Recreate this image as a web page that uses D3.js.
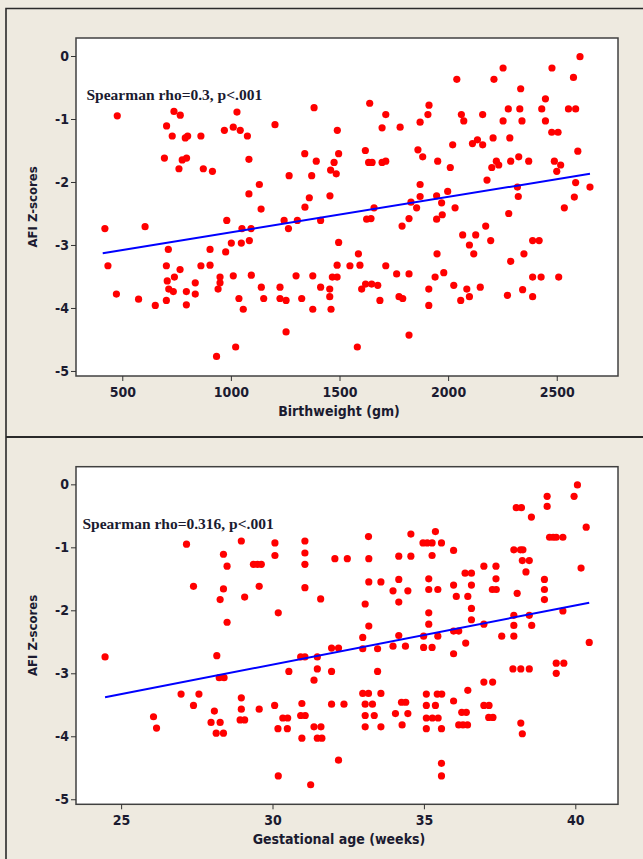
<!DOCTYPE html>
<html>
<head>
<meta charset="utf-8">
<script src="https://cdn.jsdelivr.net/npm/d3@7"></script>
<style>
  html, body { margin: 0; padding: 0; background: #eeeae0; }
  svg { display: block; }
</style>
</head>
<body>
<svg id="chart"></svg>
<script>
const svg = d3.select("#chart");
const W = 643, H = 859;
svg.attr("width", W).attr("height", H);

const yTicks = [0, -1, -2, -3, -4, -5];
const bwTicks = [500, 1000, 1500, 2000, 2500];
const gaTicks = [25, 30, 35, 40];

// birthweight (gm), AFI z-score
const bwPoints = [
  [477,-0.95],[694,-1.62],[704,-1.11],[730,-1.27],[738,-0.88],[767,-0.94],[761,-1.79],[776,-1.65],
  [790,-1.30],[801,-1.27],[796,-1.62],[862,-1.27],[873,-1.79],[915,-1.83],[970,-1.18],[1011,-1.13],
  [1028,-0.89],[1043,-1.18],[1076,-1.27],[1083,-1.64],[1083,-2.19],[1131,-2.04],[1203,-1.09],[1268,-1.90],
  [1340,-1.55],[1361,-2.25],[1372,-1.90],[1383,-0.82],[1393,-1.67],[1456,-2.22],[1459,-1.81],[1475,-1.69],
  [1485,-1.87],[1490,-1.18],[1496,-1.55],
  [1639,-0.75],[1713,-0.93],[1696,-1.14],[1779,-1.13],[1619,-1.50],[1634,-1.69],[1650,-1.69],[1696,-1.69],
  [1713,-1.67],[1871,-1.05],[1907,-0.93],[1912,-0.78],[1861,-1.49],[1883,-1.60],[1952,-1.67],[2010,-1.77],
  [2021,-1.41],[2040,-0.37],[2061,-0.93],[2072,-1.03],[2159,-0.93],[2112,-1.39],[2135,-1.33],[2159,-1.41],
  [2207,-1.30],[2179,-1.97],[2201,-1.77],[2222,-1.67],[2233,-1.73],[2211,-0.37],[2253,-0.19],[2253,-1.03],
  [2277,-0.84],[2284,-1.30],[2288,-1.67],[2330,-0.84],[2334,-0.52],[2340,-1.03],[2325,-1.60],[2371,-1.67],
  [2319,-2.08],[2323,-2.23],[2431,-0.84],[2448,-0.68],[2448,-1.03],[2478,-0.19],[2477,-1.21],[2506,-1.21],
  [2489,-1.67],[2518,-1.73],[2500,-1.83],[2554,-0.84],[2587,-0.84],[2577,-0.34],[2607,-0.01],[2597,-1.51],
  [2587,-2.01],[2581,-2.24],[2653,-2.08],[1871,-2.04],[1871,-2.23],[1947,-2.22],[1998,-2.15],
  [420,-2.74],[605,-2.71],[981,-2.61],[1139,-2.43],[1341,-2.40],[1245,-2.61],[1265,-2.74],[1306,-2.61],
  [1413,-2.61],[1051,-2.74],[1093,-2.74],[434,-3.33],[473,-3.78],[575,-3.86],[652,-3.96],[703,-3.88],
  [703,-3.33],[712,-3.07],[707,-3.57],[714,-3.70],[740,-3.51],[735,-3.74],[766,-3.39],[795,-3.74],
  [795,-3.95],[836,-3.60],[836,-3.78],[862,-3.33],[904,-3.07],[904,-3.32],[941,-3.70],[950,-3.51],
  [950,-3.60],[934,-4.77],[976,-3.11],[1002,-2.97],[1011,-3.49],[1022,-4.62],[1037,-3.85],[1057,-4.02],
  [1048,-2.97],[1085,-2.93],[1094,-3.48],[1140,-3.67],[1151,-3.85],[1226,-3.67],[1226,-3.85],[1254,-3.88],
  [1254,-4.38],[1300,-3.49],[1326,-3.85],[1377,-3.49],[1377,-4.02],[1413,-3.67],[1455,-3.70],[1455,-3.82],
  [1461,-4.02],[1467,-3.51],[1489,-3.32],[1489,-3.51],[1496,-2.96],
  [1659,-2.41],[1625,-2.59],[1645,-2.58],[1829,-2.32],[1855,-2.41],[1820,-2.58],[1788,-2.70],[1947,-2.59],
  [1973,-2.52],[1970,-2.33],[2032,-2.41],[2279,-2.50],[2535,-2.41],[1548,-3.33],[1594,-3.32],[1587,-3.14],
  [1582,-4.62],[1602,-3.70],[1620,-3.62],[1648,-3.62],[1676,-3.64],[1686,-3.88],[1713,-3.33],[1763,-3.46],
  [1820,-3.46],[1774,-3.82],[1791,-3.85],[1820,-4.43],[1949,-3.14],[1940,-3.51],[1980,-3.44],[1911,-3.70],
  [1911,-3.96],[2026,-3.64],[2067,-2.84],[2098,-3.00],[2127,-2.84],[2118,-3.14],[2173,-2.70],[2196,-2.93],
  [2086,-3.70],[2098,-3.82],[2058,-3.88],[2148,-3.67],[2273,-3.80],[2288,-3.26],[2343,-3.71],[2349,-3.14],
  [2389,-2.93],[2419,-2.93],[2389,-3.51],[2428,-3.51],[2389,-3.82],[2509,-3.51]
];

// gestational age (weeks), AFI z-score
const gaPoints = [
  [27.16,-0.95],[27.39,-1.62],[28.38,-1.11],[28.50,-1.30],[28.38,-1.66],[28.27,-1.83],[28.50,-2.19],[28.97,-0.90],
  [29.08,-1.79],[29.37,-1.27],[29.50,-1.27],[29.63,-1.27],[29.56,-1.62],[30.08,-0.93],[30.08,-1.13],[30.19,-2.04],
  [31.07,-0.90],[31.07,-1.09],[31.07,-1.27],[31.07,-1.64],[31.59,-1.82],[32.06,-1.18],
  [32.47,-1.18],[33.17,-0.83],[33.18,-1.18],[33.18,-1.55],[33.58,-1.55],[33.06,-1.90],[33.18,-2.25],[32.98,-2.43],
  [34.17,-1.14],[34.57,-0.79],[34.57,-1.14],[34.17,-1.51],[33.98,-1.69],[34.47,-1.69],[34.17,-1.87],[34.17,-2.40],
  [34.97,-0.93],[35.11,-0.93],[35.27,-0.93],[35.58,-0.93],[35.38,-0.75],[35.27,-1.13],[35.98,-1.05],[35.16,-1.50],
  [35.16,-1.67],[35.46,-1.67],[35.16,-2.04],[35.16,-2.22],[34.99,-2.41],[35.46,-2.41],[35.98,-1.60],[36.07,-1.78],
  [35.98,-2.33],[36.15,-2.33],[36.36,-1.41],[36.57,-1.41],[36.57,-1.60],[36.45,-1.78],[36.57,-1.97],[36.57,-2.15],
  [36.98,-1.30],[37.38,-1.30],[37.38,-1.50],[37.26,-1.67],[37.39,-1.67],[36.98,-2.22],[37.57,-2.41],[37.97,-1.04],
  [38.19,-1.04],[38.27,-1.04],[38.25,-1.21],[38.48,-1.21],[38.37,-1.39],[38.08,-1.73],[37.97,-2.08],[37.97,-2.24],
  [37.97,-2.41],[38.48,-2.08],[38.56,-2.24],[38.05,-0.37],[38.22,-0.37],[38.55,-0.52],[39.07,-0.19],[39.07,-0.35],
  [39.15,-0.84],[39.27,-0.84],[39.37,-0.84],[39.59,-0.84],[39.96,-0.19],[40.07,-0.01],[40.36,-0.68],[40.19,-1.33],
  [38.98,-1.51],[38.98,-1.67],[38.98,-1.83],[39.59,-2.01],
  [24.47,-2.74],[28.16,-2.72],[30.93,-2.74],[31.07,-2.74],[31.48,-2.74],[31.95,-2.60],[32.18,-2.60],[28.24,-3.07],
  [28.40,-3.07],[26.98,-3.33],[27.57,-3.33],[27.39,-3.51],[28.08,-3.60],[28.97,-3.39],[28.97,-3.57],[28.93,-3.74],
  [29.08,-3.74],[29.56,-3.57],[30.07,-3.51],[26.07,-3.69],[26.17,-3.87],[27.97,-3.78],[28.27,-3.78],[28.14,-3.95],
  [28.38,-3.95],[30.34,-3.71],[30.50,-3.71],[30.18,-3.88],[30.49,-3.88],[30.54,-2.97],[30.97,-3.48],[30.93,-3.67],
  [31.08,-3.67],[30.97,-4.03],[31.37,-3.11],[31.48,-2.93],[31.95,-2.97],[31.95,-3.49],[31.37,-3.85],[31.60,-3.85],
  [31.48,-4.03],[31.63,-4.03],[32.18,-4.38],[30.19,-4.63],[31.26,-4.77],
  [32.98,-2.61],[33.47,-2.61],[33.98,-2.57],[34.39,-2.57],[34.99,-2.59],[35.27,-2.59],[35.98,-2.69],[36.38,-2.52],
  [40.46,-2.51],[32.36,-3.49],[33.47,-2.97],[32.98,-3.32],[33.17,-3.32],[33.58,-3.32],[33.06,-3.49],[33.30,-3.49],
  [33.06,-3.67],[33.36,-3.67],[33.06,-3.85],[33.58,-3.85],[34.06,-3.64],[34.28,-3.82],[34.47,-3.64],[34.26,-3.46],
  [34.40,-3.46],[35.08,-3.33],[35.44,-3.33],[35.59,-3.33],[35.08,-3.51],[35.38,-3.51],[35.08,-3.71],[35.28,-3.71],
  [35.47,-3.71],[35.08,-3.88],[35.58,-3.88],[35.98,-3.44],[36.45,-3.27],[36.25,-3.62],[36.40,-3.62],[36.15,-3.82],
  [36.29,-3.82],[36.44,-3.82],[36.98,-3.14],[37.27,-3.14],[36.98,-3.51],[37.15,-3.51],[37.14,-3.70],[37.28,-3.70],
  [37.94,-2.93],[38.20,-2.93],[38.48,-2.93],[39.37,-2.84],[39.62,-2.84],[39.37,-3.00],[38.20,-3.79],[38.25,-3.96],
  [35.58,-4.43],[35.58,-4.63]
];

// fitted lines, read as end points
const bwFit = [[410, -3.13], [2653, -1.87]];
const gaFit = [[24.47, -3.38], [40.46, -1.88]];

const panels = [
  {
    points: bwPoints, fit: bwFit, xTicks: bwTicks,
    xDomain: [287, 2782], yDomain: [-5.08, 0.286],
    box: {left: 76, right: 618, top: 38, bottom: 376},
    xTitle: "Birthweight (gm)",
    note: "Spearman rho=0.3, p<.001", noteX: 86.5, noteY: 99.5
  },
  {
    points: gaPoints, fit: gaFit, xTicks: gaTicks,
    xDomain: [23.51, 41.41], yDomain: [-5.08, 0.28],
    box: {left: 76, right: 618, top: 466.7, bottom: 804.3},
    xTitle: "Gestational age (weeks)",
    note: "Spearman rho=0.316, p<.001", noteX: 82.5, noteY: 528.5
  }
];

const TXT = "#1b1b30";
const SANS = "'DejaVu Sans Condensed', 'DejaVu Sans', sans-serif";

// outer frame
svg.append("rect").attr("width", W).attr("height", H).attr("fill", "#eeeae0");
svg.append("path")
  .attr("d", `M6,${H} V8.5 H${W}`)
  .attr("fill", "none").attr("stroke", "#2a2a2a").attr("stroke-width", 1.6);
svg.append("line")
  .attr("x1", 6).attr("x2", W).attr("y1", 437).attr("y2", 437)
  .attr("stroke", "#2a2a2a").attr("stroke-width", 2.2);

panels.forEach(drawPanel);

function drawPanel(p) {
  const b = p.box;
  const x = d3.scaleLinear().domain(p.xDomain).range([b.left, b.right]);
  const y = d3.scaleLinear().domain(p.yDomain).range([b.bottom, b.top]);
  const g = svg.append("g");

  g.append("rect")
    .attr("x", b.left).attr("y", b.top)
    .attr("width", b.right - b.left).attr("height", b.bottom - b.top)
    .attr("fill", "#ffffff").attr("stroke", "#404040").attr("stroke-width", 1.5);

  const yAxis = g.append("g")
    .attr("transform", `translate(${b.left},0)`)
    .call(d3.axisLeft(y).tickValues(yTicks).tickSize(5).tickSizeOuter(0)
      .tickPadding(2).tickFormat(d => String(d)));
  const xAxis = g.append("g")
    .attr("transform", `translate(0,${b.bottom})`)
    .call(d3.axisBottom(x).tickValues(p.xTicks).tickSize(5).tickSizeOuter(0)
      .tickPadding(6).tickFormat(d => String(d)));

  [yAxis, xAxis].forEach(a => {
    a.select(".domain").remove();
    a.selectAll(".tick line").attr("stroke", "#333");
    a.selectAll(".tick text")
      .attr("fill", TXT)
      .attr("font-family", SANS)
      .attr("font-stretch", "condensed")
      .attr("font-weight", "bold")
      .attr("font-size", 14);
  });

  g.append("text")
    .attr("x", (b.left + b.right) / 2 - 8)
    .attr("y", b.bottom + 40)
    .attr("text-anchor", "middle")
    .attr("fill", TXT)
    .attr("font-family", SANS).attr("font-stretch", "condensed")
    .attr("font-weight", "bold").attr("font-size", 14)
    .text(p.xTitle);

  g.append("text")
    .attr("transform", `translate(37,${(b.top + b.bottom) / 2}) rotate(-90)`)
    .attr("text-anchor", "middle")
    .attr("fill", TXT)
    .attr("font-family", SANS).attr("font-stretch", "condensed")
    .attr("font-weight", "bold").attr("font-size", 13)
    .text("AFI Z-scores");

  g.append("text")
    .attr("x", p.noteX).attr("y", p.noteY)
    .attr("fill", TXT)
    .attr("font-family", "'Liberation Serif', 'Times New Roman', serif")
    .attr("font-weight", "bold").attr("font-size", 15.5)
    .text(p.note);

  g.append("g")
    .selectAll("circle")
    .data(p.points)
    .enter()
    .append("circle")
    .attr("cx", d => x(d[0]))
    .attr("cy", d => y(d[1]))
    .attr("r", 3.6)
    .attr("fill", "#ff0000");

  g.append("path")
    .datum(p.fit)
    .attr("d", d3.line().x(d => x(d[0])).y(d => y(d[1])))
    .attr("fill", "none")
    .attr("stroke", "#0000ff")
    .attr("stroke-width", 2);
}
</script>
</body>
</html>
